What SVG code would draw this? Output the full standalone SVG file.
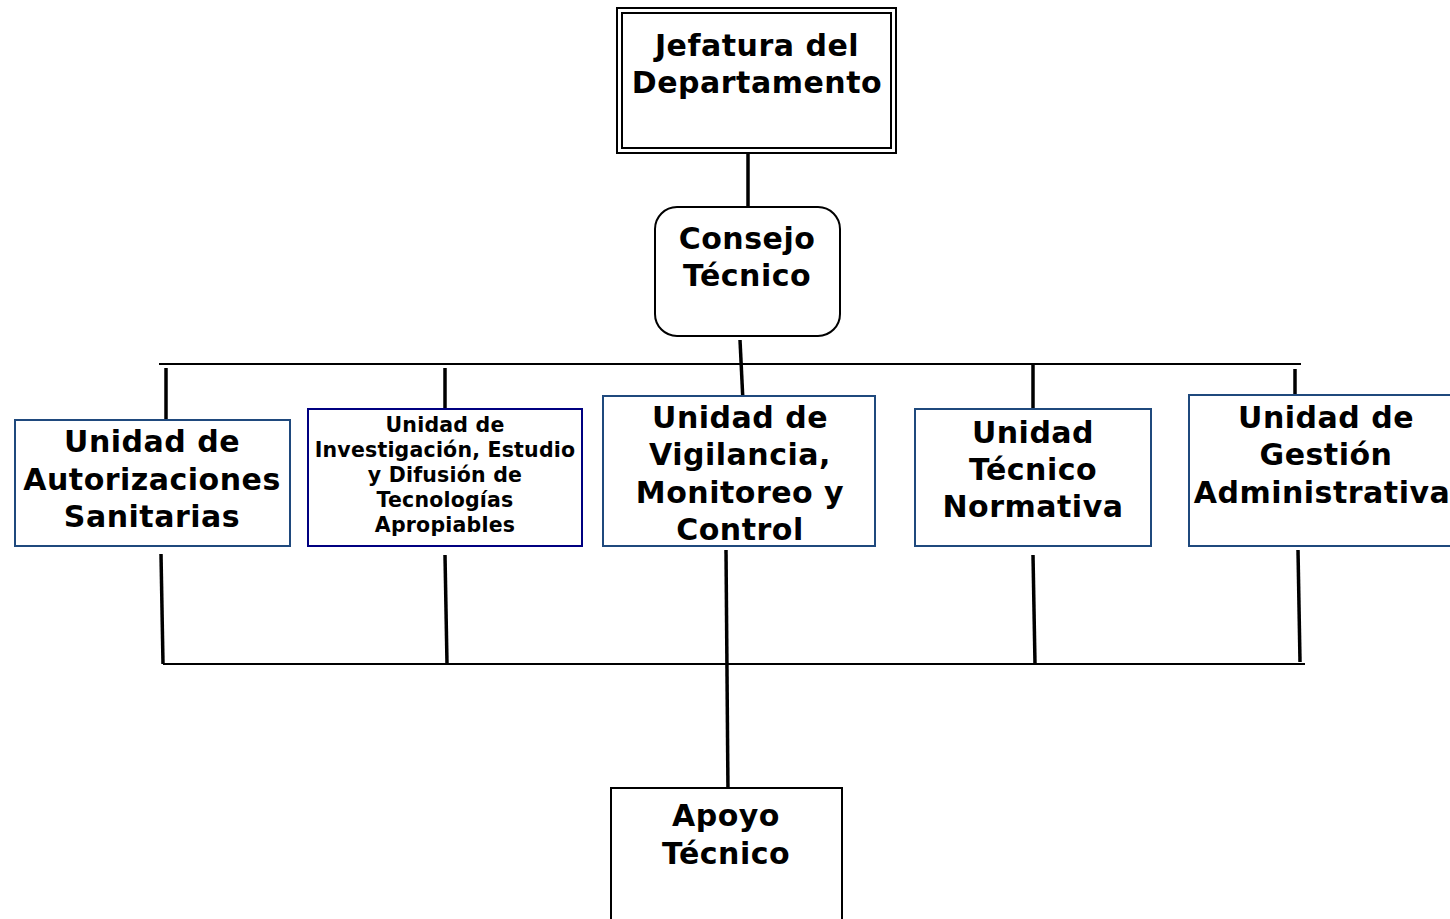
<svg xmlns="http://www.w3.org/2000/svg" width="1450" height="919" viewBox="0 0 1450 919">
<style>
text{font-family:"DejaVu Sans",Verdana,sans-serif;font-weight:bold;fill:#000;text-anchor:middle}
.big{font-size:30px;letter-spacing:0.5px}
.small{font-size:20.5px;letter-spacing:0.2px}
.unit{fill:#fff;stroke:#1F497D;stroke-width:2}
.navy{fill:#fff;stroke:#000080;stroke-width:2}
.thick{stroke:#000;stroke-width:3.5;fill:none}
.thin{stroke:#000;stroke-width:2;fill:none}
</style>
<rect width="1450" height="919" fill="#fff"/>
<g id="connectors">
<line class="thick" x1="748" y1="153" x2="748" y2="207"/>
<line class="thick" x1="740" y1="340" x2="743" y2="402"/>
<line class="thin" x1="159" y1="364" x2="1301" y2="364"/>
<line class="thick" x1="166" y1="368" x2="166" y2="420"/>
<line class="thick" x1="445" y1="368" x2="445" y2="409"/>
<line class="thick" x1="1033" y1="364" x2="1033" y2="409"/>
<line class="thick" x1="1295" y1="369" x2="1295" y2="395"/>
<line class="thick" x1="161" y1="554" x2="163" y2="664"/>
<line class="thick" x1="445" y1="555" x2="447" y2="664"/>
<line class="thick" x1="726" y1="550" x2="728" y2="794"/>
<line class="thick" x1="1033" y1="555" x2="1035" y2="664"/>
<line class="thick" x1="1298" y1="550" x2="1300" y2="662"/>
<line class="thin" x1="163" y1="664" x2="1305" y2="664"/>
</g>
<g id="jefatura">
<rect x="617" y="8" width="279" height="145" fill="#fff" stroke="#000" stroke-width="2"/>
<rect x="622" y="13" width="269" height="135" fill="none" stroke="#000" stroke-width="2"/>
<text class="big" x="757" y="56">Jefatura del</text>
<text class="big" x="757" y="93">Departamento</text>
</g>
<g id="consejo">
<rect x="655" y="207" width="185" height="129" rx="22" fill="#fff" stroke="#000" stroke-width="2"/>
<text class="big" x="747" y="249">Consejo</text>
<text class="big" x="747" y="286">Técnico</text>
</g>
<g id="autorizaciones">
<rect class="unit" x="15" y="420" width="275" height="126"/>
<text class="big" x="152" y="452">Unidad de</text>
<text class="big" x="152" y="490">Autorizaciones</text>
<text class="big" x="152" y="527">Sanitarias</text>
</g>
<g id="investigacion">
<rect class="navy" x="308" y="409" width="274" height="137"/>
<text class="small" x="445" y="432">Unidad de</text>
<text class="small" x="445" y="457">Investigación, Estudio</text>
<text class="small" x="445" y="482">y Difusión de</text>
<text class="small" x="445" y="507">Tecnologías</text>
<text class="small" x="445" y="532">Apropiables</text>
</g>
<g id="vigilancia">
<rect class="unit" x="603" y="396" width="272" height="150"/>
<text class="big" x="740" y="428">Unidad de</text>
<text class="big" x="740" y="465">Vigilancia,</text>
<text class="big" x="740" y="503">Monitoreo y</text>
<text class="big" x="740" y="540">Control</text>
</g>
<g id="normativa">
<rect class="unit" x="915" y="409" width="236" height="137"/>
<text class="big" x="1033" y="443">Unidad</text>
<text class="big" x="1033" y="480">Técnico</text>
<text class="big" x="1033" y="517">Normativa</text>
</g>
<g id="gestion">
<rect class="unit" x="1189" y="395" width="280" height="151"/>
<text class="big" x="1326" y="428">Unidad de</text>
<text class="big" x="1326" y="465">Gestión</text>
<text class="big" x="1322" y="503">Administrativa</text>
</g>
<g id="apoyo">
<rect x="611" y="788" width="231" height="140" fill="#fff" stroke="#000" stroke-width="2"/>
<text class="big" x="726" y="826">Apoyo</text>
<text class="big" x="726" y="864">Técnico</text>
</g>
</svg>
